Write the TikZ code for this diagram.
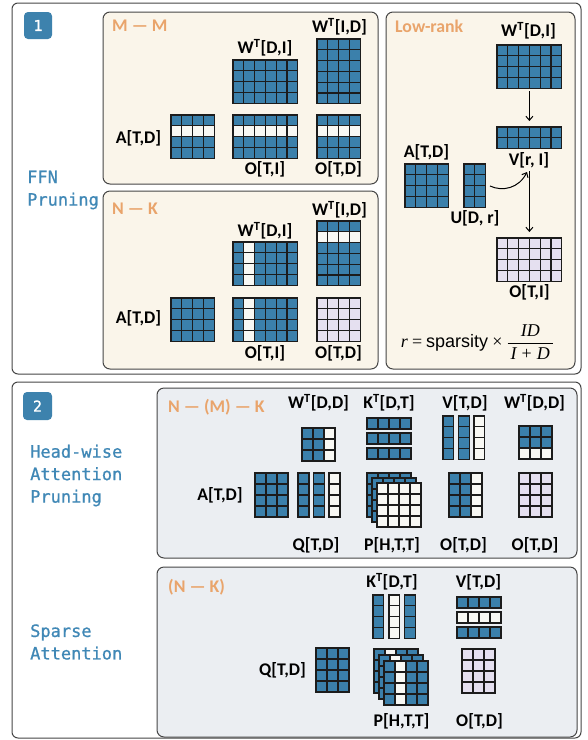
\documentclass[tikz,border=0pt]{standalone}
\usepackage{fontspec}
\setmainfont{Carlito}
\newfontfamily\hand[FakeBold=0.8]{DejaVu Sans Mono}
\newfontfamily\lsans{Liberation Sans}
\newfontfamily\lserif{Liberation Serif}
\usetikzlibrary{arrows.meta}
\definecolor{cb}{RGB}{59,128,171}
\definecolor{cl}{RGB}{229,224,240}
\definecolor{cwh}{RGB}{248,248,244}
\definecolor{cream}{RGB}{250,245,234}
\definecolor{grayp}{RGB}{235,238,242}
\definecolor{orng}{RGB}{233,164,107}
\definecolor{secblue}{RGB}{64,136,182}
\definecolor{badgeb}{RGB}{61,130,173}
\definecolor{bord}{RGB}{70,70,70}
\definecolor{gridc}{RGB}{28,28,28}
\tikzset{
  gl/.style={draw=gridc, line width=1.25pt, line cap=rect},
  cw/.style={fill=cwh},
  gbox/.style={rectangle, inner sep=0pt, outer sep=0pt, draw=none},
  lbl/.style={font=\fontsize{17.8}{20}\selectfont\bfseries, inner sep=0pt},
  ttl/.style={lbl, text=orng, anchor=west},
  sec/.style={font=\hand\fontsize{17}{22.5}\selectfont, text=secblue, align=left, anchor=west, inner sep=0pt},
  outerbox/.style={draw=bord, line width=1pt, rounded corners=6pt, fill=white},
  panelc/.style={draw=bord, line width=1pt, rounded corners=7pt, fill=cream},
  panelg/.style={draw=bord, line width=1pt, rounded corners=7pt, fill=grayp},
  badge/.style={fill=badgeb, rounded corners=4pt, text=white, font=\hand\fontsize{15}{15}\selectfont, inner sep=0pt},
  arr/.style={draw=black, line width=1pt, -{Straight Barb[length=4pt,width=7pt]}},
}
% #1 name, #2 x, #3 y, #4 cols, #5 rows, #6 cell, #7 fill, #8 white cols, #9 white rows
\newcommand\G[9]{%
  \fill[#7] (#2,#3) rectangle ++(#4*#6,#5*#6);
  \foreach \k in {#8}{\ifnum\k>0 \fill[cw] (#2+\k*#6-#6,#3) rectangle ++(#6,#5*#6);\fi}
  \foreach \k in {#9}{\ifnum\k>0 \fill[cw] (#2,#3+\k*#6-#6) rectangle ++(#4*#6,#6);\fi}
  \foreach \i in {0,...,#4}{\draw[gl] (#2+\i*#6,#3) -- ++(0,#5*#6);}
  \foreach \j in {0,...,#5}{\draw[gl] (#2,#3+\j*#6) -- ++(#4*#6,0);}
  \node[gbox, minimum width=#4*#6*1pt, minimum height=#5*#6*1pt, anchor=north west] (#1) at (#2,#3) {};
}
\begin{document}
\begin{tikzpicture}[x=1pt,y=-1pt]
\useasboundingbox (0,0) rectangle (588,740);
% outer boxes
\draw[outerbox] (12,3) rectangle (581,374);
\draw[outerbox] (12,382) rectangle (581,738);
\node[badge, minimum width=28pt, minimum height=27pt] (b1) at (38,25.5) {1};
\node[badge, minimum width=29pt, minimum height=28pt] (b2) at (37.5,406) {2};
\node[sec] (s1) at (27,190) {FFN\\Pruning};
\node[sec] (s2) at (30,475.5) {Head-wise\\Attention\\Pruning};
\node[sec] (s3) at (30,642) {Sparse\\Attention};
% panels
\draw[panelc] (103,12) rectangle (378,184);
\draw[panelc] (103,191) rectangle (378,369);
\draw[panelc] (386,12) rectangle (575,369);
\draw[panelg] (157,388) rectangle (577,558);
\draw[panelg] (157,567) rectangle (577,737);

% ===== M-M =====
\node[ttl] (t1) at (112,26) {M — M};
\node[lbl] (l1) at (339.5,27) {W\textsuperscript{T}[I,D]};
\node[lbl] (l2) at (265,48) {W\textsuperscript{T}[D,I]};
\node[lbl] (l3) at (138.5,138) {A[T,D]};
\node[lbl] (l4) at (265,169) {O[T,I]};
\node[lbl] (l5) at (338.5,169) {O[T,D]};
\G{mmwid}{317}{39}{4}{6}{10.8}{cb}{0}{0}
\G{mmwdi}{233}{60}{6}{4}{10.8}{cb}{0}{0}
\G{mma}{171}{115}{4}{4}{10.8}{cb}{0}{2}
\G{mmoti}{233}{115}{6}{4}{10.8}{cb}{0}{2}
\G{mmotd}{317}{115}{4}{4}{10.8}{cb}{0}{2}

% ===== N-K =====
\node[ttl] (t2) at (112,209) {N — K};
\node[lbl] (l6) at (339.5,210) {W\textsuperscript{T}[I,D]};
\node[lbl] (l7) at (265,231) {W\textsuperscript{T}[D,I]};
\node[lbl] (l8) at (138.5,318) {A[T,D]};
\node[lbl] (l9) at (265,353) {O[T,I]};
\node[lbl] (l10) at (338.5,353) {O[T,D]};
\G{nkwid}{317}{221}{4}{6}{10.8}{cb}{0}{2}
\G{nkwdi}{233}{242}{6}{4}{10.8}{cb}{2}{0}
\G{nka}{171}{298}{4}{4}{10.8}{cb}{0}{0}
\G{nkoti}{233}{298}{6}{4}{10.8}{cb}{2}{0}
\G{nkotd}{317}{298}{4}{4}{10.8}{cl}{0}{0}

% ===== Low-rank =====
\node[ttl] (t3) at (395,26) {Low-rank};
\node[lbl] (l11) at (528.5,31) {W\textsuperscript{T}[D,I]};
\G{lrw}{497}{45}{6}{4}{10.8}{cb}{0}{0}
\G{lrv}{497}{127}{6}{2}{10.8}{cb}{0}{0}
\node[lbl] (l12) at (529,160) {V[r, I]};
\node[lbl] (l13) at (426.5,152) {A[T,D]};
\G{lra}{405}{164}{4}{4}{10.8}{cb}{0}{0}
\G{lru}{464}{164}{2}{4}{10.8}{cb}{0}{0}
\node[lbl] (l14) at (475,218) {U[D, r]};
\G{lro}{497}{238}{6}{4}{10.8}{cl}{0}{0}
\node[lbl] (l15) at (529.5,292) {O[T,I]};
\draw[arr, shorten <=3pt, shorten >=6pt] (lrw.south) -- (lrv.north);
\coordinate (cs) at (490,186);
\coordinate (ce) at (527,172);
\draw[arr] (cs) .. controls (503,192) and (519,188) .. (ce);
\draw[arr, shorten <=3pt, shorten >=6pt] (l12.south -| lrv.south) -- (lro.north);
\node[font=\fontsize{18}{20}\selectfont, inner sep=0pt] (fml) at (477.5,342)
  {{\lserif\itshape r} {\lserif =} {\lsans sparsity} {\lserif ×} $\displaystyle\frac{\hbox{\lserif\itshape\,ID\,}}{\hbox{\lserif\itshape\,I\;{\upshape +}\;D\,}}$};

% ===== N-(M)-K =====
\node[ttl] (t4) at (168,407) {N — (M) — K};
\node[lbl] (l16) at (318.5,403) {W\textsuperscript{T}[D,D]};
\node[lbl] (l17) at (389,403) {K\textsuperscript{T}[D,T]};
\node[lbl] (l18) at (465,403) {V[T,D]};
\node[lbl] (l19) at (534.5,403) {W\textsuperscript{T}[D,D]};
\G{hw1}{302}{428}{3}{3}{11}{cb}{3}{0}
\G{hk1}{367}{418}{4}{1}{11}{cb}{0}{0}
\G{hk2}{367}{433}{4}{1}{11}{cb}{0}{0}
\G{hk3}{367}{448}{4}{1}{11}{cb}{0}{0}
\G{hv1}{443}{416}{1}{4}{10.8}{cb}{0}{0}
\G{hv2}{458.5}{416}{1}{4}{10.8}{cb}{0}{0}
\G{hv3}{474}{416}{1}{4}{10.8}{cwh}{0}{0}
\G{hw2}{519}{426}{3}{3}{11}{cb}{0}{3}
\node[lbl] (l20) at (220,495) {A[T,D]};
\G{ha}{255}{473}{3}{4}{11}{cb}{0}{0}
\G{hq1}{298}{473}{1}{4}{11}{cb}{0}{0}
\G{hq2}{313.5}{473}{1}{4}{11}{cb}{0}{0}
\G{hq3}{329}{473}{1}{4}{11}{cwh}{0}{0}
\G{hp1}{367}{473}{4}{4}{11}{cb}{0}{0}
\G{hp2}{372}{478}{4}{4}{11}{cb}{0}{0}
\G{hp3}{377}{483}{4}{4}{11}{cwh}{0}{0}
\G{ho1}{449}{473}{3}{4}{11}{cb}{3}{0}
\G{ho2}{519}{473}{3}{4}{11}{cl}{0}{0}
\node[lbl] (l21) at (316,545) {Q[T,D]};
\node[lbl] (l22) at (392,545) {P[H,T,T]};
\node[lbl] (l23) at (463.5,545) {O[T,D]};
\node[lbl] (l24) at (535,545) {O[T,D]};

% ===== (N-K) sparse =====
\node[ttl] (t5) at (168,587) {(N — K)};
\node[lbl] (l25) at (392,582) {K\textsuperscript{T}[D,T]};
\node[lbl] (l26) at (478.5,582) {V[T,D]};
\G{sk1}{373}{595}{1}{4}{10.8}{cb}{0}{0}
\G{sk2}{389}{595}{1}{4}{10.8}{cwh}{0}{0}
\G{sk3}{404.5}{595}{1}{4}{10.8}{cb}{0}{0}
\G{sv1}{457}{597}{4}{1}{11}{cb}{0}{0}
\G{sv2}{457}{612}{4}{1}{11}{cwh}{0}{0}
\G{sv3}{457}{627}{4}{1}{11}{cb}{0}{0}
\node[lbl] (l27) at (282.5,670) {Q[T,D]};
\G{sq}{316}{648}{3}{4}{11}{cb}{0}{0}
\G{sp1}{374}{649}{4}{4}{11}{cb}{2}{0}
\G{sp2}{379}{655}{4}{4}{11}{cb}{2}{0}
\G{sp3}{384}{661}{4}{4}{11}{cb}{2}{0}
\G{so}{462}{649}{3}{4}{11}{cl}{0}{0}
\node[lbl] (l28) at (401.5,721) {P[H,T,T]};
\node[lbl] (l29) at (479.5,721) {O[T,D]};
\end{tikzpicture}
\end{document}
